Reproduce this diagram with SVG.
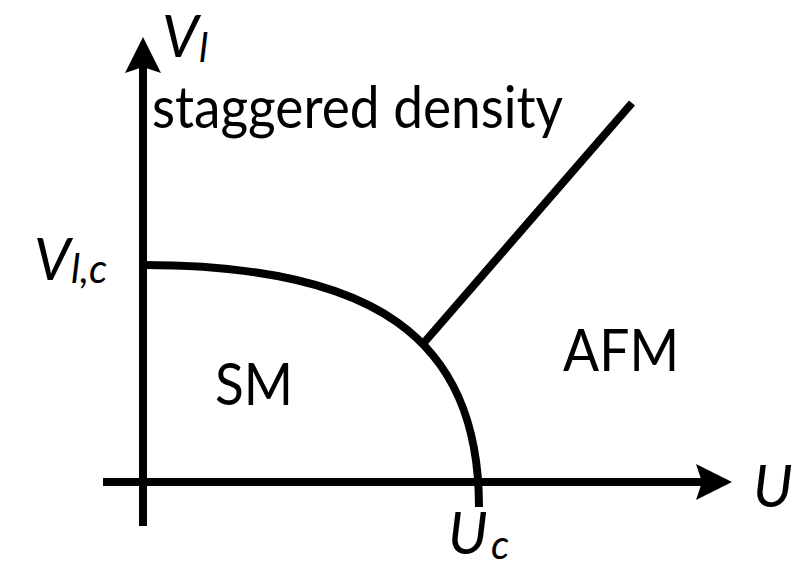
<svg xmlns="http://www.w3.org/2000/svg" width="805" height="567" viewBox="0 0 805 567">
<style>
.ln{fill:none;stroke:#000;stroke-width:8}
.ah{fill:#000;stroke:none}
.t{font-family:Lato,"Open Sans",sans-serif;font-size:58px;fill:#000}
.i{font-style:italic}
.s{font-size:40px}
</style>
<rect width="805" height="567" fill="#fff"/>
<g id="connectors">
<line class="ln" x1="143" y1="526" x2="143" y2="62"/>
<path class="ah" d="M143,37 L161,73 L143,67 L125,73 Z"/>
<line class="ln" x1="103" y1="482" x2="707" y2="482"/>
<path class="ah" d="M732,482 L696,500 L702,482 L696,464 Z"/>
<path class="ln" d="M143,265 C373,265 479,337 479,507"/>
<line class="ln" x1="422" y1="345" x2="632" y2="103"/>
</g>
<g id="axis-v"><text class="t i" x="162" y="57">V<tspan class="s" x="199" y="62">l</tspan></text></g>
<g id="label-staggered"><text class="t" x="152" y="128" textLength="411" lengthAdjust="spacingAndGlyphs">staggered density</text></g>
<g id="label-v1c"><text class="t i" x="34" y="280">V<tspan class="s" x="71" y="283">l,c</tspan></text></g>
<g id="label-sm"><text class="t" x="215" y="405" textLength="78" lengthAdjust="spacingAndGlyphs">SM</text></g>
<g id="label-afm"><text class="t" x="563" y="371" textLength="116" lengthAdjust="spacingAndGlyphs">AFM</text></g>
<g id="axis-u"><text class="t i" x="753" y="507">U</text></g>
<g id="label-uc"><text class="t i" x="448" y="554">U<tspan class="s" x="491" y="559">c</tspan></text></g>
</svg>
